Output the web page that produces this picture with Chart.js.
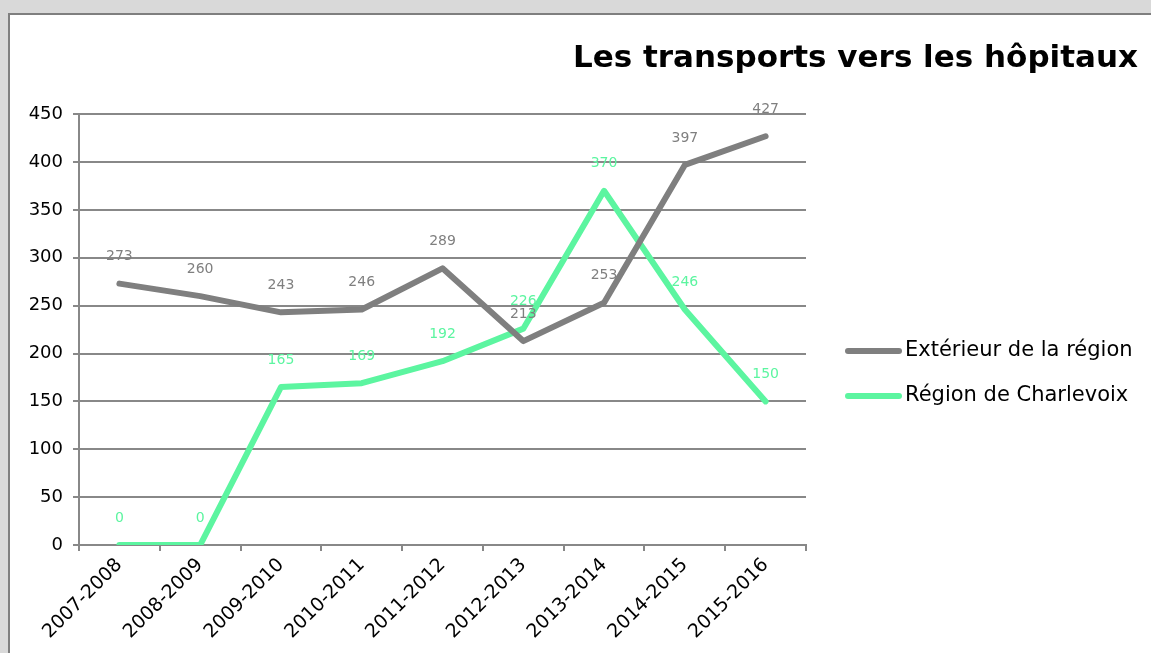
<!DOCTYPE html>
<html>
<head>
<meta charset="utf-8">
<title>Les transports vers les hôpitaux</title>
<script src="https://cdn.jsdelivr.net/npm/chart.js@4.4.1/dist/chart.umd.min.js"></script>
<style>
  html, body { margin: 0; padding: 0; background: #d9d9d9; overflow: hidden; }
  .frame {
    position: absolute; left: 8px; top: 13px; width: 1170px; height: 670px;
    background: #fff; border: 2px solid #7f7f7f; box-sizing: border-box;
  }
  #chart { position: absolute; left: 0; top: 0; }
</style>
</head>
<body>
<div class="frame"></div>
<canvas id="chart" width="1151" height="653"></canvas>
<script>
// data
const seasons = ["2007-2008", "2008-2009", "2009-2010", "2010-2011", "2011-2012",
                 "2012-2013", "2013-2014", "2014-2015", "2015-2016"];
const outsideRegion = [273, 260, 243, 246, 289, 213, 253, 397, 427];
const charlevoix = [0, 0, 165, 169, 192, 226, 370, 246, 150];
const seriesNames = ["Extérieur de la région", "Région de Charlevoix"];
const yMin = 0;
const yMax = 450;
const yStep = 50;

const GREY = "#7f7f7f";
const GREEN = "#5cf5a0";
const GRID = "#888888";
const FONT = '"DejaVu Sans", sans-serif';

// value labels above each point, same colour as the line
const pointLabels = {
  id: "pointLabels",
  afterDatasetsDraw(chart) {
    const ctx = chart.ctx;
    ctx.save();
    ctx.font = "14px " + FONT;
    ctx.textAlign = "center";
    ctx.textBaseline = "middle";
    chart.data.datasets.forEach((ds, i) => {
      ctx.fillStyle = ds.borderColor;
      chart.getDatasetMeta(i).data.forEach((pt, j) => {
        ctx.fillText(String(ds.data[j]), pt.x, pt.y - 27);
      });
    });
    ctx.restore();
  }
};

// legend to the right of the plot
const sideLegend = {
  id: "sideLegend",
  afterDraw(chart) {
    const { ctx, chartArea } = chart;
    const x = chartArea.right + 39;
    ctx.save();
    chart.data.datasets.forEach((ds, i) => {
      const y = 351 + i * 45;
      ctx.strokeStyle = ds.borderColor;
      ctx.lineWidth = 6;
      ctx.lineCap = "round";
      ctx.beginPath();
      ctx.moveTo(x + 3, y);
      ctx.lineTo(x + 54, y);
      ctx.stroke();
      ctx.fillStyle = "#000";
      ctx.font = "21px " + FONT;
      ctx.textAlign = "left";
      ctx.textBaseline = "middle";
      ctx.fillText(ds.label, x + 60, y);
    });
    ctx.restore();
  }
};

const ctx = document.getElementById("chart").getContext("2d");
const lineChart = new Chart(ctx, {
  type: "line",
  data: {
    labels: seasons,
    datasets: [
      {
        label: seriesNames[0],
        data: outsideRegion,
        borderColor: GREY,
        backgroundColor: GREY,
        borderWidth: 6,
        borderCapStyle: "round",
        borderJoinStyle: "round",
        pointRadius: 0,
        tension: 0,
      },
      {
        label: seriesNames[1],
        data: charlevoix,
        borderColor: GREEN,
        backgroundColor: GREEN,
        borderWidth: 6,
        borderCapStyle: "round",
        borderJoinStyle: "round",
        pointRadius: 0,
        tension: 0,
      },
    ],
  },
  options: {
    responsive: false,
    animation: false,
    layout: { padding: { left: 10, right: 13, top: 0, bottom: 0 } },
    plugins: {
      legend: { display: false },
      tooltip: { enabled: false },
      title: {
        display: true,
        text: "Les transports vers les hôpitaux",
        align: "end",
        color: "#000",
        font: { family: FONT, size: 31, weight: "bold", lineHeight: 1.2 },
        padding: { top: 40, bottom: 37 },
      },
    },
    scales: {
      x: {
        offset: true,
        grid: {
          offset: true,
          drawOnChartArea: false,
          drawTicks: true,
          tickLength: 6,
          color: GRID,
          lineWidth: 2,
        },
        border: { display: true, color: GRID, width: 2 },
        ticks: {
          minRotation: 45,
          maxRotation: 45,
          autoSkip: false,
          color: "#000",
          padding: 3,
          font: { family: FONT, size: 19 },
        },
        afterFit(scale) {
          scale.height = 108;
          scale.paddingLeft = 0;
          scale.paddingRight = 345;
        },
      },
      y: {
        min: yMin,
        max: yMax,
        ticks: {
          stepSize: yStep,
          color: "#000",
          padding: 10,
          font: { family: FONT, size: 18 },
        },
        grid: { color: GRID, lineWidth: 2, tickLength: 6 },
        border: { display: true, color: GRID, width: 2 },
        afterFit(scale) {
          scale.width = 69;
        },
      },
    },
  },
  plugins: [pointLabels, sideLegend],
});
</script>
</body>
</html>
